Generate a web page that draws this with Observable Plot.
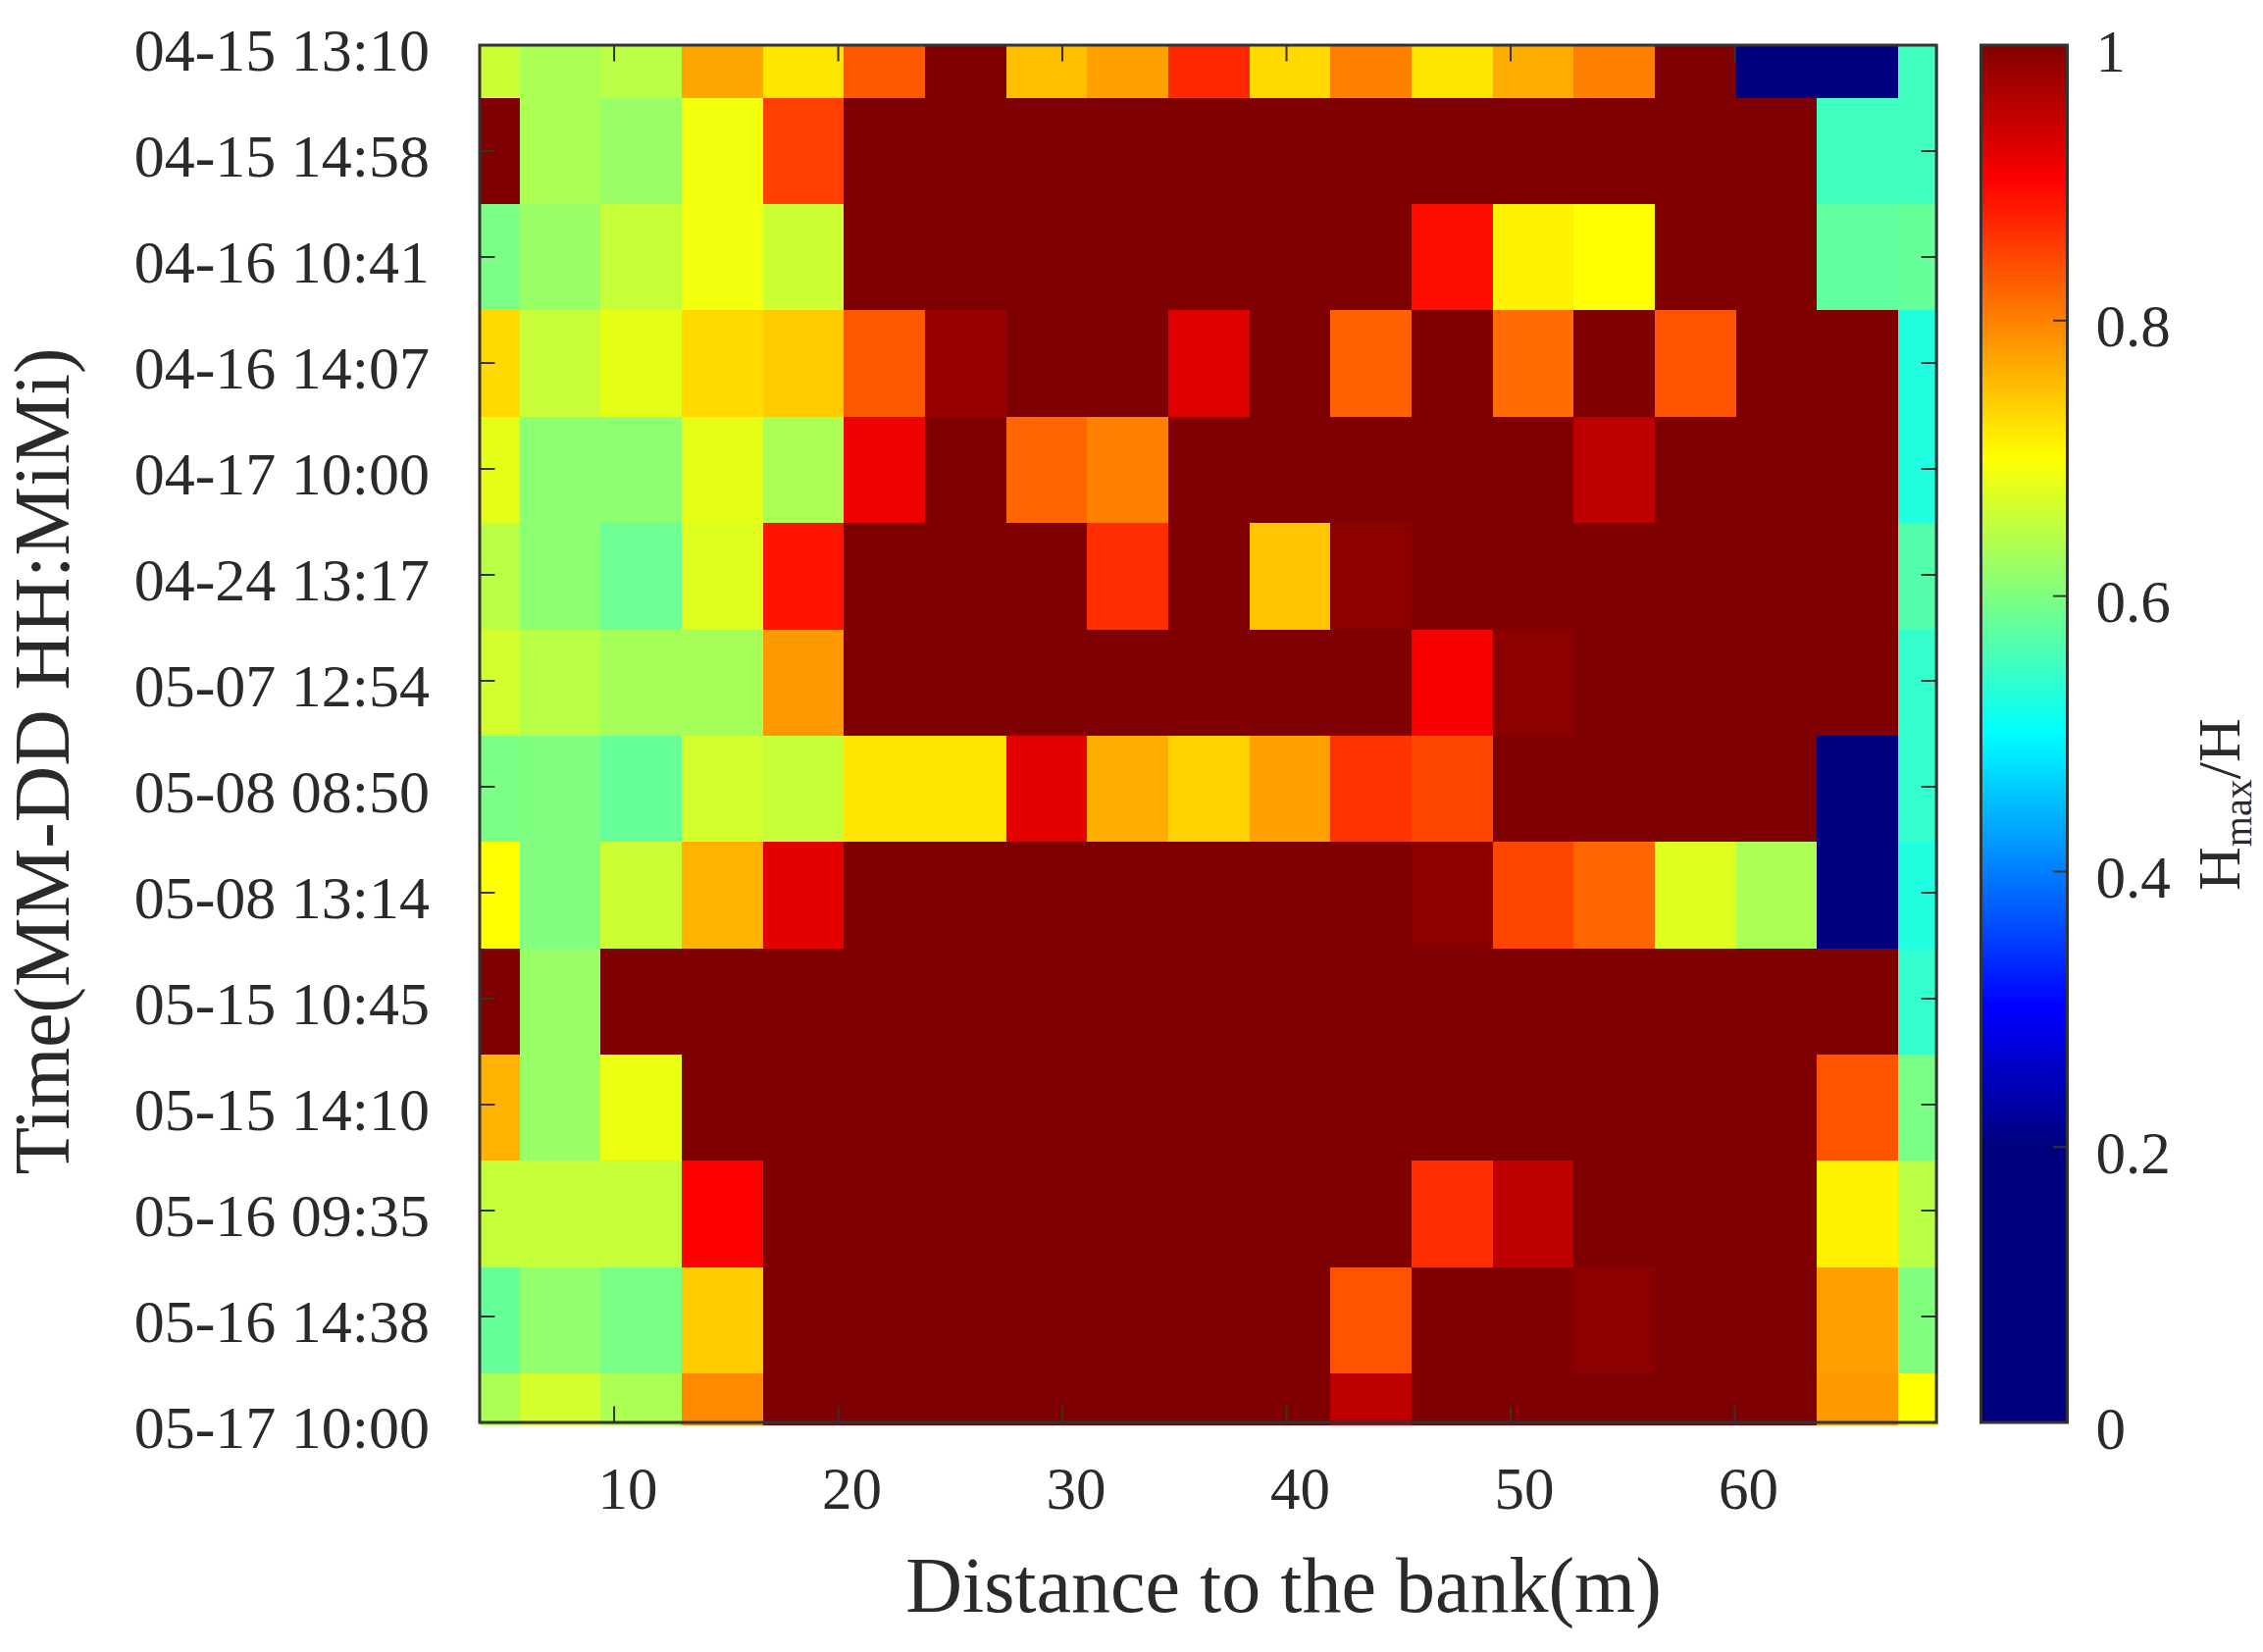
<!DOCTYPE html>
<html>
<head>
<meta charset="utf-8">
<script src="https://cdn.jsdelivr.net/npm/d3@7"></script>
<script src="https://cdn.jsdelivr.net/npm/@observablehq/plot@0.6"></script>
<style>
  html,body{margin:0;padding:0;background:#fff;overflow:hidden}
  #chart{display:flex;width:2307px;height:1684px;color:#2a2a2a}
  #chart svg{display:block;flex:none}
</style>
</head>
<body>
<div id="chart"></div>
<script>
const timeLabels = ["04-15 13:10","04-15 14:58","04-16 10:41","04-16 14:07","04-17 10:00","04-24 13:17","05-07 12:54","05-08 08:50","05-08 13:14","05-15 10:45","05-15 14:10","05-16 09:35","05-16 14:38","05-17 10:00"];
const xTicks = [10,20,30,40,50,60];
const barTicks = [0,0.2,0.4,0.6,0.8,1];
const firstDistance = 4, stepDistance = 3.618, stepRow = 1.0034;

const r00 = [.66,.635,.645,.77,.72,.83,1,.75,.775,.87,.73,.8,.72,.765,.8,1,.1,.1,.55];
const r01 = [1,.635,.62,.69,.85,1,1,1,1,1,1,1,1,1,1,1,1,.55,.55];
const r02 = [.595,.62,.655,.69,.66,1,1,1,1,1,1,1,.89,.71,.70,1,1,.575,.58];
const r03 = [.73,.655,.68,.73,.74,.83,.98,1,1,.925,1,.825,1,.815,1,.835,1,1,.525];
const r04 = [.68,.61,.61,.68,.635,.915,1,.82,.8,1,1,1,1,1,.95,1,1,1,.525];
const r05 = [.645,.61,.585,.675,.885,1,1,1,.865,1,.745,.99,1,1,1,1,1,1,.565];
const r06 = [.665,.645,.63,.63,.78,1,1,1,1,1,1,1,.905,.99,1,1,1,1,.54];
const r07 = [.595,.6,.58,.665,.655,.72,.72,.92,.765,.735,.775,.86,.845,1,1,1,1,.1,.54];
const r08 = [.7,.6,.66,.76,.92,1,1,1,1,1,1,1,.99,.845,.82,.675,.635,.1,.525];
const r09 = [1,.62,1,1,1,1,1,1,1,1,1,1,1,1,1,1,1,1,.54];
const r10 = [.76,.62,.685,1,1,1,1,1,1,1,1,1,1,1,1,1,1,.835,.595];
const r11 = [.655,.655,.655,.9,1,1,1,1,1,1,1,1,.865,.95,1,1,1,.71,.645];
const r12 = [.58,.615,.595,.74,1,1,1,1,1,1,1,.835,1,1,.99,1,1,.775,.6];
const r13 = [.635,.665,.635,.79,1,1,1,1,1,1,1,.95,1,1,1,1,1,.78,.7];
const rows = [r00,r01,r02,r03,r04,r05,r06,r07,r08,r09,r10,r11,r12,r13];

const cells = rows.flatMap((row, i) => row.map((value, k) => ({i, k, value})));
const colorScale = {
  type: "linear",
  domain: [0.2, 0.3, 0.5, 0.7, 0.9, 1],
  range: ["#00007f", "#0000ff", "#00ffff", "#ffff00", "#ff0000", "#7f0000"],
  interpolate: "rgb",
  clamp: true
};
const serif = "'Liberation Serif', 'Times New Roman', serif";
const ink = "#333";

const main = Plot.plot({
  width: 1990, height: 1684,
  marginLeft: 488.5, marginRight: 16.4, marginTop: 45.5, marginBottom: 234.5,
  style: {fontFamily: serif, background: "#fff"},
  x: {domain: [4, 69]},
  y: {domain: [13, 0]},
  color: colorScale,
  marks: [
    Plot.rect(cells, {
      x1: d => Math.max(firstDistance, firstDistance + (d.k - .5) * stepDistance),
      x2: d => Math.min(69.11, firstDistance + (d.k + .5) * stepDistance),
      y1: d => Math.max(0, (d.i - .5) * stepRow),
      y2: d => Math.min(13.03, (d.i + .5) * stepRow),
      fill: "value",
      shapeRendering: "crispEdges"
    }),
    Plot.frame({stroke: ink, strokeWidth: 3}),
    Plot.axisX({anchor: "bottom", ticks: xTicks, tickSize: -16, stroke: ink, strokeWidth: 2, tickFormat: () => "", label: null}),
    Plot.axisX({anchor: "top", ticks: xTicks, tickSize: -16, stroke: ink, strokeWidth: 2, tickFormat: () => "", label: null}),
    Plot.axisY({anchor: "left", ticks: d3.range(14), tickSize: -16, stroke: ink, strokeWidth: 2, tickFormat: () => "", label: null}),
    Plot.axisY({anchor: "right", ticks: d3.range(14), tickSize: -16, stroke: ink, strokeWidth: 2, tickFormat: () => "", label: null}),
    Plot.axisX({anchor: "bottom", ticks: xTicks, tickSize: 0, tickPadding: 44.5, dx: 14, fontSize: 61, label: null, tickFormat: d => String(d)}),
    Plot.axisY({anchor: "left", ticks: d3.range(14), tickSize: 0, tickPadding: 51, dy: 6, fontSize: 62, label: null, tickFormat: i => timeLabels[i]}),
    Plot.text(["Distance to the bank(m)"], {frameAnchor: "bottom", dx: 77, dy: 192.5, textAnchor: "middle", lineAnchor: "bottom", fontSize: 80}),
    Plot.text(["Time(MM-DD HH:MiMi)"], {frameAnchor: "left", dx: -419, dy: 28, rotate: -90, textAnchor: "middle", lineAnchor: "bottom", fontSize: 79.5})
  ]
});

const barLevels = d3.range(0, 1, 1 / 700);
const bar = Plot.plot({
  width: 317, height: 1684,
  marginLeft: 29, marginRight: 200, marginTop: 45.5, marginBottom: 234.5,
  style: {fontFamily: serif, background: "#fff"},
  x: {domain: [0, 1], axis: null},
  y: {domain: [0, 1]},
  color: colorScale,
  marks: [
    Plot.rect(barLevels, {x1: 0, x2: 1, y1: d => d, y2: d => d + 1 / 600, fill: d => d, shapeRendering: "crispEdges"}),
    Plot.frame({stroke: ink, strokeWidth: 3}),
    Plot.axisY({anchor: "right", ticks: barTicks, tickSize: -15, stroke: ink, strokeWidth: 2, tickFormat: () => "", label: null}),
    Plot.axisY({anchor: "right", ticks: barTicks, tickSize: 0, tickPadding: 29, dy: 7, fontSize: 61, label: null, tickFormat: d => String(d)}),
    () => {
      const t = d3.create("svg:text")
        .attr("transform", "translate(293,908) rotate(-90)")
        .attr("text-anchor", "start")
        .attr("font-size", 62).attr("fill", "currentColor");
      t.append("tspan").text("H");
      t.append("tspan").attr("dy", 12).attr("font-size", 40).text("max");
      t.append("tspan").attr("dy", -12).text("/H");
      return t.node();
    }
  ]
});

const host = document.getElementById("chart");
host.append(main, bar);
</script>
</body>
</html>
